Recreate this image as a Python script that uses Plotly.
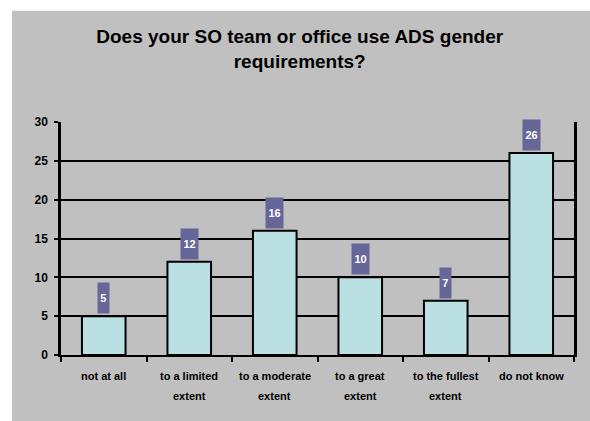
import plotly.graph_objects as go

# Survey responses
categories = ["not at all", "to a limited extent", "to a moderate extent",
              "to a great extent", "to the fullest extent", "do not know"]
tick_lines = [["not at all"], ["to a limited", "extent"], ["to a moderate", "extent"],
              ["to a great", "extent"], ["to the fullest", "extent"], ["do not know"]]
counts = [5, 12, 16, 10, 7, 26]
y_ticks = [0, 5, 10, 15, 20, 25, 30]

title_text = "Does your SO team or office use ADS gender<br>requirements?"

FONT = "Liberation Sans, Arial, sans-serif"
GRAY = "#C0C0C0"
BAR = "#BBE0E3"
LABEL_BG = "#666699"

fig = go.Figure()
fig.add_trace(go.Bar(
    x=categories, y=counts, width=0.51,
    marker=dict(color=BAR, line=dict(color="black", width=2)),
    hoverinfo="x+y",
))

annotations = []
# value boxes above the bars
for c, v in zip(categories, counts):
    annotations.append(dict(
        x=c, y=v, xref="x", yref="y", text=f"<b>{v}</b>", showarrow=False,
        yanchor="bottom", yshift=2, bgcolor=LABEL_BG, borderpad=0,
        width=4 + 6.5 * len(str(v)), height=30,
        font=dict(family=FONT, size=11, color="white"),
    ))
# category labels, one annotation per line for wider line spacing
line_y = [-0.089, -0.175]
for c, lines in zip(categories, tick_lines):
    for i, ln in enumerate(lines):
        annotations.append(dict(
            x=c, y=line_y[i], xref="x", yref="paper", text=f"<b>{ln}</b>",
            showarrow=False, yanchor="middle", xanchor="center",
            font=dict(family=FONT, size=11, color="black"),
        ))

fig.update_layout(
    width=590, height=421,
    margin=dict(l=61, r=16, t=122, b=66),
    paper_bgcolor="white",
    plot_bgcolor=GRAY,
    showlegend=False,
    title=dict(text=f"<b>{title_text}</b>", x=0.508, xref="container",
               xanchor="center", y=0.898, yref="container", yanchor="middle",
               font=dict(family=FONT, size=19, color="black")),
    shapes=[dict(type="rect", xref="paper", yref="paper",
                 x0=-0.0955, x1=1.06, y0=-0.35, y1=1.4775,
                 fillcolor=GRAY, line=dict(width=0), layer="below")],
    annotations=annotations,
    bargap=0.49,
)
fig.update_xaxes(
    type="category", tickson="boundaries", showticklabels=False,
    ticks="outside", ticklen=5, tickwidth=2, tickcolor="black",
    showline=True, linecolor="black", linewidth=2, showgrid=False,
    range=[-0.5, 5.5],
)
fig.update_yaxes(
    range=[0, 30], tickvals=y_ticks, ticks="outside", ticklen=4, tickwidth=2,
    tickcolor="black", showline=True, linecolor="black", linewidth=2.5, mirror=True,
    showgrid=True, gridcolor="black", gridwidth=1.5, zeroline=False,
    tickfont=dict(family=FONT, size=12, color="black", weight="bold"),
    ticklabelstandoff=4,
)

fig.write_html("out.html")
